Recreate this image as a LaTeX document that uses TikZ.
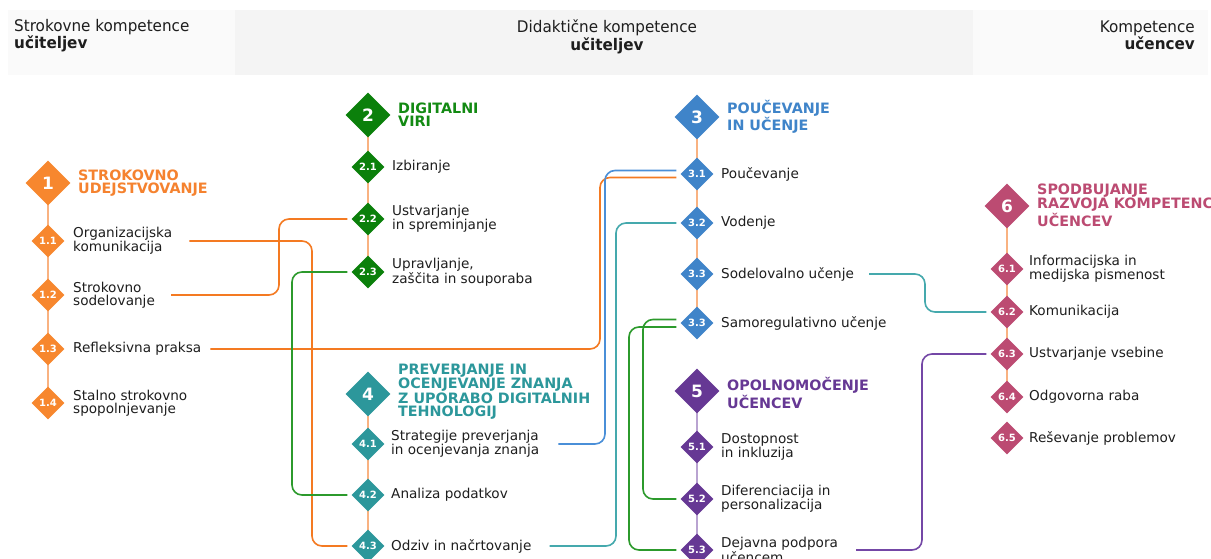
\documentclass[tikz,border=0pt]{standalone}
\usepackage{fontspec}
\setmainfont{DejaVu Sans}
\newfontfamily\hdrfont[FakeStretch=0.95]{DejaVu Sans}
\usetikzlibrary{shapes.geometric,backgrounds}
\definecolor{txt}{HTML}{1E1E1E}
\definecolor{hdrA}{HTML}{FAFAFA}
\definecolor{hdrB}{HTML}{F4F4F4}
\definecolor{cOr}{HTML}{F7872E}
\definecolor{cOrT}{HTML}{F5822F}
\definecolor{cOrC}{HTML}{F47A22}
\definecolor{cRail}{HTML}{F9B281}
\definecolor{cGr}{HTML}{0B800B}
\definecolor{cGrT}{HTML}{138A13}
\definecolor{cGrC}{HTML}{2C9A2C}
\definecolor{cBl}{HTML}{3F84C9}
\definecolor{cBlC}{HTML}{4A8FD8}
\definecolor{cTe}{HTML}{2C979B}
\definecolor{cTeC}{HTML}{45A9AD}
\definecolor{cPu}{HTML}{663894}
\definecolor{cPuR}{HTML}{B9A3D1}
\definecolor{cPuC}{HTML}{7447A6}
\definecolor{cRa}{HTML}{BC4B72}
\begin{document}
\begin{tikzpicture}[x=1pt,y=-1pt,
  bigd/.style={diamond, aspect=1, minimum width=45pt, minimum height=45pt, inner sep=0pt, text=white, font=\fontsize{17}{17}\selectfont\bfseries},
  subd/.style={diamond, aspect=1, minimum width=33pt, minimum height=33pt, inner sep=0pt, text=white, font=\fontsize{10}{10}\selectfont\bfseries},
  ttl/.style={anchor=west, inner sep=0pt, align=left, font=\fontsize{14.3}{12.8}\selectfont\bfseries},
  itm/.style={anchor=west, inner sep=0pt, align=left, text=txt, font=\fontsize{13.6}{12.8}\selectfont},
  hdr/.style={inner sep=0pt, text=txt, font=\hdrfont\fontsize{16}{15}\selectfont},
  rail/.style={line width=2pt},
  conn/.style={line width=1.6pt, rounded corners=10pt}
]
\useasboundingbox (0,0) rectangle (1211,559);

% header texts
\node[hdr, anchor=north west, align=left] (h1) at (14,19) {Strokovne kompetence\\\textbf{učiteljev}};
\node[hdr, anchor=north, align=center] (h2) at (607,20) {Didaktične kompetence\\\textbf{učiteljev}};
\node[hdr, anchor=north east, align=right] (h3) at (1195,21) {Kompetence\\\textbf{učencev}};

% category 1
\node[bigd, fill=cOr] (d1) at (48,183) {1};
\node[ttl, text=cOrT] (t1) at (78,183) {STROKOVNO\\UDEJSTVOVANJE};
\node[subd, fill=cOr] (d11) at (48,241) {1.1};
\node[itm] (t11) at (73,241) {Organizacijska\\komunikacija};
\node[subd, fill=cOr] (d12) at (48,295) {1.2};
\node[itm] (t12) at (73,295) {Strokovno\\sodelovanje};
\node[subd, fill=cOr] (d13) at (48,349) {1.3};
\node[itm] (t13) at (73,349) {Refleksivna praksa};
\node[subd, fill=cOr] (d14) at (48,403) {1.4};
\node[itm] (t14) at (73,403) {Stalno strokovno\\spopolnjevanje};

% category 2
\node[bigd, fill=cGr] (d2) at (368,115) {2};
\node[ttl, text=cGrT] (t2) at (398,115) {DIGITALNI\\VIRI};
\node[subd, fill=cGr] (d21) at (368,167) {2.1};
\node[itm] (t21) at (392,167) {Izbiranje};
\node[subd, fill=cGr] (d22) at (368,219) {2.2};
\node[itm] (t22) at (392,219) {Ustvarjanje\\in spreminjanje};
\node[subd, fill=cGr] (d23) at (368,272) {2.3};
\node[itm] (t23) at (392,272) {Upravljanje,\\zaščita in souporaba};

% category 3
\node[bigd, fill=cBl] (d3) at (697,117) {3};
\node[ttl, text=cBl] (t3) at (727,117) {POUČEVANJE\\IN UČENJE};
\node[subd, fill=cBl] (d31) at (697,174) {3.1};
\node[itm] (t31) at (721,174) {Poučevanje};
\node[subd, fill=cBl] (d32) at (697,223) {3.2};
\node[itm] (t32) at (721,223) {Vodenje};
\node[subd, fill=cBl] (d33) at (697,274) {3.3};
\node[itm] (t33) at (721,274) {Sodelovalno učenje};
\node[subd, fill=cBl] (d33b) at (697,323) {3.3};
\node[itm] (t33b) at (721,323) {Samoregulativno učenje};

% category 4
\node[bigd, fill=cTe] (d4) at (368,394) {4};
\node[ttl, text=cTe] (t4) at (398,391.5) {PREVERJANJE IN\\OCENJEVANJE ZNANJA\\Z UPORABO DIGITALNIH\\TEHNOLOGIJ};
\node[subd, fill=cTe] (d41) at (368,444) {4.1};
\node[itm] (t41) at (391,444) {Strategije preverjanja\\in ocenjevanja znanja};
\node[subd, fill=cTe] (d42) at (368,495) {4.2};
\node[itm] (t42) at (391,495) {Analiza podatkov};
\node[subd, fill=cTe] (d43) at (368,546) {4.3};
\node[itm] (t43) at (391,546) {Odziv in načrtovanje};

% category 5
\node[bigd, fill=cPu] (d5) at (697,391) {5};
\node[ttl, text=cPu] (t5) at (727,393) {OPOLNOMOČENJE\\UČENCEV};
\node[subd, fill=cPu] (d51) at (697,447) {5.1};
\node[itm] (t51) at (721,447) {Dostopnost\\in inkluzija};
\node[subd, fill=cPu] (d52) at (697,499) {5.2};
\node[itm] (t52) at (721,499) {Diferenciacija in\\personalizacija};
\node[subd, fill=cPu] (d53) at (697,550) {5.3};
\node[itm] (t53) at (721,550) {Dejavna podpora\\učencem};

% category 6
\node[bigd, fill=cRa] (d6) at (1007,206) {6};
\node[ttl, text=cRa] (t6) at (1037,205) {SPODBUJANJE\\RAZVOJA KOMPETENC\\UČENCEV};
\node[subd, fill=cRa] (d61) at (1007,269) {6.1};
\node[itm] (t61) at (1029,269) {Informacijska in\\medijska pismenost};
\node[subd, fill=cRa] (d62) at (1007,312) {6.2};
\node[itm] (t62) at (1029,312) {Komunikacija};
\node[subd, fill=cRa] (d63) at (1007,354) {6.3};
\node[itm] (t63) at (1029,354) {Ustvarjanje vsebine};
\node[subd, fill=cRa] (d64) at (1007,397) {6.4};
\node[itm] (t64) at (1029,397) {Odgovorna raba};
\node[subd, fill=cRa] (d65) at (1007,438) {6.5};
\node[itm] (t65) at (1029,438) {Reševanje problemov};

% background: header bands and rails
\begin{scope}[on background layer]
  \fill[white] (0,0) rectangle (1211,559);
  \fill[hdrA] (8,10) rectangle (235,75);
  \fill[hdrB] (235,10) rectangle (973,75);
  \fill[hdrA] (973,10) rectangle (1208,75);
  \draw[rail, cRail] (d1.center) -- (d14.center);
  \draw[rail, cRail] (d2.center) -- (d23.center);
  \draw[rail, cRail] (d3.center) -- (d33b.center);
  \draw[rail, cRail] (d4.center) -- (d43.center);
  \draw[rail, cPuR] (d5.center) -- (d53.center);
  \draw[rail, cRail] (d6.center) -- (d64.center);
\end{scope}

% connector end points
\coordinate (p31a) at ([xshift=-4pt,yshift=3.5pt]d31.west);
\coordinate (p31b) at ([xshift=-4pt,yshift=-3.5pt]d31.west);
\coordinate (p33a) at ([xshift=-4pt,yshift=3.5pt]d33b.west);
\coordinate (p33b) at ([xshift=-4pt,yshift=-4pt]d33b.west);

% connectors
\draw[conn, cOrC] ([xshift=17pt]t11.east) -- (t11.east -| 312,0) -- (d43 -| 312,0) -- ([xshift=-4pt]d43.west);
\draw[conn, cOrC] ([xshift=16pt]t12.east) -- (t12.east -| 279,0) -- (d22 -| 279,0) -- ([xshift=-4pt]d22.west);
\draw[conn, cOrC] ([xshift=9pt]t13.east) -- (t13.east -| 600,0) -- (p31b -| 600,0) -- (p31b);
\draw[conn, cBlC] ([xshift=19pt]t41.east) -- (t41.east -| 605,0) -- (p31a -| 605,0) -- (p31a);
\draw[conn, cTeC] ([xshift=18pt]t43.east) -- (t43.east -| 616,0) -- (d32 -| 616,0) -- ([xshift=-4pt]d32.west);
\draw[conn, cTeC] ([xshift=15pt]t33.east) -- (t33.east -| 925,0) -- (d62 -| 925,0) -- ([xshift=-4pt]d62.west);
\draw[conn, cPuC] ([xshift=18pt]t53.east) -- (t53.east -| 922,0) -- (d63 -| 922,0) -- ([xshift=-4pt]d63.west);
\draw[conn, cGrC] ([xshift=-4pt]d23.west) -- (d23 -| 292,0) -- (d42 -| 292,0) -- ([xshift=-4pt]d42.west);
\draw[conn, cGrC] (p33a) -- (p33a -| 643,0) -- (d52 -| 643,0) -- ([xshift=-4pt]d52.west);
\draw[conn, cGrC] (p33b) -- (p33b -| 629,0) -- (d53 -| 629,0) -- ([xshift=-4pt]d53.west);
\end{tikzpicture}
\end{document}
